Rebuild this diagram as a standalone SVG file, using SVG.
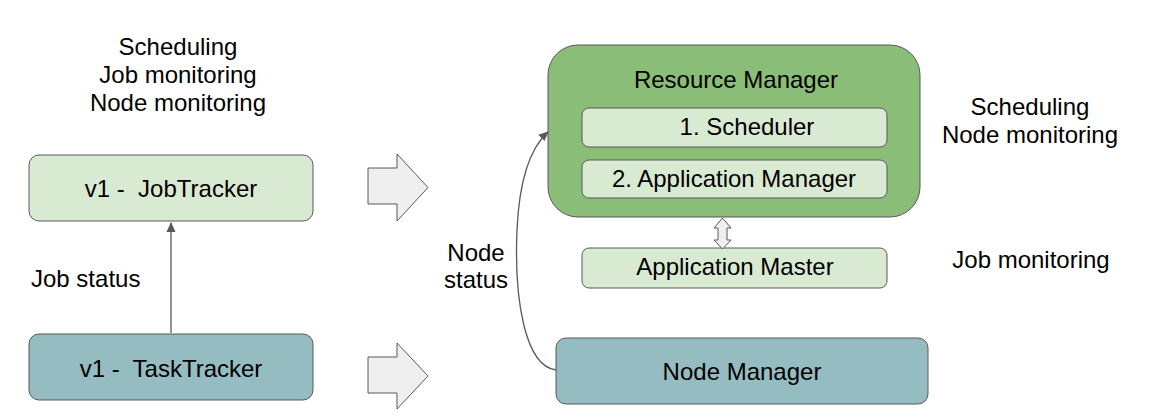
<svg xmlns="http://www.w3.org/2000/svg" width="1151" height="419" viewBox="0 0 1151 419">
<style>
text{font-family:"Liberation Sans",Arial,sans-serif;font-size:24px;fill:#000;}
.c{text-anchor:middle;}
.box{stroke:#595959;stroke-width:1;}
.lg{fill:#d9ead3;}
.tl{fill:#95bcc1;}
.dg{fill:#8abd77;}
.blk{fill:#efefef;stroke:#595959;stroke-width:1;stroke-linejoin:miter;}
.ln{fill:none;stroke:#595959;stroke-width:1.3;}
</style>
<defs>
<marker id="ah" viewBox="0 0 10 10" refX="9" refY="5" markerWidth="10" markerHeight="10" markerUnits="userSpaceOnUse" orient="auto">
<path d="M0,0.5 L10,5 L0,9.5 Z" fill="#595959"/>
</marker>
</defs>
<rect width="1151" height="419" fill="#fff"/>

<g id="labels">
<text class="c" x="178" y="55">Scheduling</text>
<text class="c" x="178" y="83">Job monitoring</text>
<text class="c" x="178" y="111">Node monitoring</text>
<text class="c" x="1030" y="115">Scheduling</text>
<text class="c" x="1030" y="143">Node monitoring</text>
<text class="c" x="1031" y="268">Job monitoring</text>
<text x="31" y="287">Job status</text>
<text class="c" x="476" y="261">Node</text>
<text class="c" x="476" y="288">status</text>
</g>

<g id="jobtracker">
<rect class="box lg" x="29" y="155" width="284" height="66" rx="10"/>
<text class="c" x="171" y="197" xml:space="preserve">v1 -  JobTracker</text>
</g>
<g id="tasktracker">
<rect class="box tl" x="29" y="334" width="284" height="66" rx="10"/>
<text class="c" x="171" y="377" xml:space="preserve">v1 -  TaskTracker</text>
</g>

<g id="resourcemanager">
<rect class="box dg" x="548" y="45" width="372" height="172" rx="30"/>
<text class="c" x="736" y="88">Resource Manager</text>
</g>
<g id="scheduler">
<rect class="box lg" x="582" y="108" width="305" height="39" rx="7"/>
<text class="c" x="747" y="135">1. Scheduler</text>
</g>
<g id="appmanager">
<rect class="box lg" x="582" y="160" width="305" height="38" rx="7"/>
<text class="c" x="734" y="187">2. Application Manager</text>
</g>
<g id="appmaster">
<rect class="box lg" x="582" y="248" width="305" height="40" rx="7"/>
<text class="c" x="735" y="275">Application Master</text>
</g>
<g id="nodemanager">
<rect class="box tl" x="556" y="338" width="372" height="66" rx="10"/>
<text class="c" x="742" y="380">Node Manager</text>
</g>

<g id="connectors">
<line class="ln" x1="171" y1="333" x2="171" y2="223" marker-end="url(#ah)"/>
<path class="ln" d="M556,370 C525,366 514,300 517,230 C519,185 528,150 548,132" marker-end="url(#ah)"/>
<polygon class="blk" points="368,168 397,168 397,154 428,187.5 397,221 397,204 368,204"/>
<polygon class="blk" points="368,357 397,357 397,343 428,376 397,409 397,393 368,393"/>
<polygon class="blk" points="722.5,218 731,228 727,228 727,240 731,240 722.5,249 714,240 718,240 718,228 714,228"/>
</g>
</svg>
